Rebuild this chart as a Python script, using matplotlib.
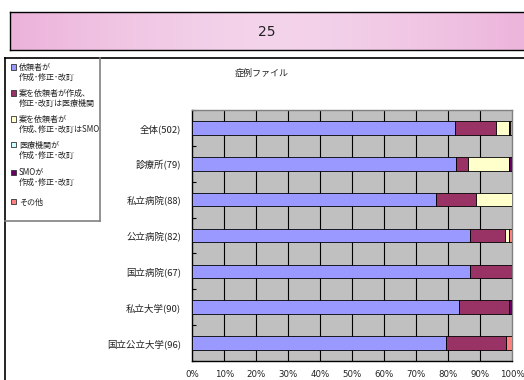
import numpy as np
import matplotlib
matplotlib.use('Agg')
import matplotlib.pyplot as plt
from matplotlib.lines import Line2D
from matplotlib.patches import Rectangle

plt.rcParams['font.family'] = ['Noto Sans CJK JP', 'DejaVu Sans']

# Data (percent of each group)
categories = ['全体(502)', '診療所(79)', '私立病院(88)', '公立病院(82)',
              '国立病院(67)', '私立大学(90)', '国立公立大学(96)']
series_names = ['依頼者が\n作成･修正･改訂',
                '案を依頼者が作成､\n修正･改訂は医療機関',
                '案を依頼者が\n作成､修正･改訂はSMO',
                '医療機関が\n作成･修正･改訂',
                'SMOが\n作成･修正･改訂',
                'その他']
sponsor = [82.1, 82.3, 76.1, 86.6, 86.6, 83.3, 79.2]
draft_site = [12.9, 3.8, 12.5, 11.0, 13.4, 15.6, 18.7]
draft_smo = [4.0, 12.7, 11.4, 1.2, 0.0, 0.0, 0.0]
site = [0.0, 0.0, 0.0, 0.0, 0.0, 0.0, 0.0]
smo = [0.4, 1.2, 0.0, 0.0, 0.0, 1.1, 0.0]
other = [0.6, 0.0, 0.0, 1.2, 0.0, 0.0, 2.1]
series = [sponsor, draft_site, draft_smo, site, smo, other]
colors = ['#9999FF', '#993366', '#FFFFCC', '#CCFFFF', '#660066', '#FF8080']
xticks = [0, 10, 20, 30, 40, 50, 60, 70, 80, 90, 100]

W, H = 524, 380
fig = plt.figure(figsize=(W / 100, H / 100), dpi=100)

# header band with soft pink gradient
hax = fig.add_axes([10 / W, 1 - 50 / H, 1.0, 38 / H])
xx = np.linspace(-1, 1, 400)
grad = 1 - np.abs(xx) ** 1.5
c_edge = np.array([0.925, 0.70, 0.855])
c_mid = np.array([0.955, 0.83, 0.92])
img = c_edge[None, :] + (c_mid - c_edge)[None, :] * grad[:, None]
hax.imshow(img[None, :, :], aspect='auto', extent=[0, 1, 0, 1])
hax.set_xlim(0, 1)
hax.set_ylim(0, 1)
hax.set_xticks([])
hax.set_yticks([])
for s in hax.spines.values():
    s.set_color('black')
    s.set_linewidth(1.0)
fig.text(267 / W, 1 - 32 / H, '25', ha='center', va='center',
         fontsize=10, color='#222222', family='DejaVu Sans')

# frame lines
fig.add_artist(Line2D([5 / W, 1], [1 - 58 / H, 1 - 58 / H],
                      transform=fig.transFigure, color='black', lw=1.2))
fig.add_artist(Line2D([5 / W, 5 / W], [1 - 58 / H, 0],
                      transform=fig.transFigure, color='black', lw=1.2))
fig.add_artist(Line2D([100 / W, 100 / W], [1 - 58 / H, 1 - 221 / H],
                      transform=fig.transFigure, color='#808080', lw=1.2))
fig.add_artist(Line2D([5 / W, 100 / W], [1 - 221 / H, 1 - 221 / H],
                      transform=fig.transFigure, color='#808080', lw=1.2))

# legend (manual, left box)
leg_y = [72, 98, 124, 150, 177, 202]
for name, col, yc in zip(series_names, colors, leg_y):
    lines = name.split('\n')
    ytop = yc - 5 * (len(lines) - 1)
    fig.add_artist(Rectangle((11 / W, 1 - (ytop + 2.5) / H), 5 / W, 5 / H,
                             transform=fig.transFigure, facecolor=col,
                             edgecolor='#333333', lw=0.6))
    for i, ln in enumerate(lines):
        fig.text(19 / W, 1 - (ytop + i * 10.5) / H, ln, ha='left',
                 va='center', fontsize=5.8, color='#222222')

fig.text(262 / W, 1 - 73 / H, '症例ファイル', ha='center', va='center',
         fontsize=6.5, color='#222222')

# main chart
ax = fig.add_axes([192.4 / W, 1 - 361 / H, 320 / W, 251 / H])
ax.set_facecolor('#C0C0C0')
y = np.arange(len(categories))
left = np.zeros(len(categories))
for vals, col in zip(series, colors):
    ax.barh(y, vals, left=left, height=0.38, color=col,
            edgecolor='black', linewidth=0.6, zorder=3)
    left += np.array(vals)

ax.set_xlim(0, 100)
ax.set_ylim(len(categories) - 0.5, -0.5)
for xv in xticks[1:-1]:
    ax.axvline(xv, color='black', lw=0.8, zorder=1)

ax.set_yticks(y)
ax.set_yticklabels(categories, fontsize=6.8, color='#222222')
ax.tick_params(axis='y', length=0, pad=8)
ax.set_yticks(np.arange(len(categories) + 1) - 0.5, minor=True)
ax.tick_params(axis='y', which='minor', direction='in', length=3,
               width=0.8, color='black')
ax.set_xticks(xticks)
ax.set_xticklabels([f'{v}%' for v in xticks], fontsize=6.2,
                   color='#222222', family='DejaVu Sans')
ax.tick_params(axis='x', length=0, pad=6.5)

ax.spines['left'].set_color('black')
ax.spines['bottom'].set_color('black')
ax.spines['top'].set_color('#808080')
ax.spines['right'].set_color('#808080')
for s in ax.spines.values():
    s.set_linewidth(1.0)

fig.savefig('out.png', dpi=100)
